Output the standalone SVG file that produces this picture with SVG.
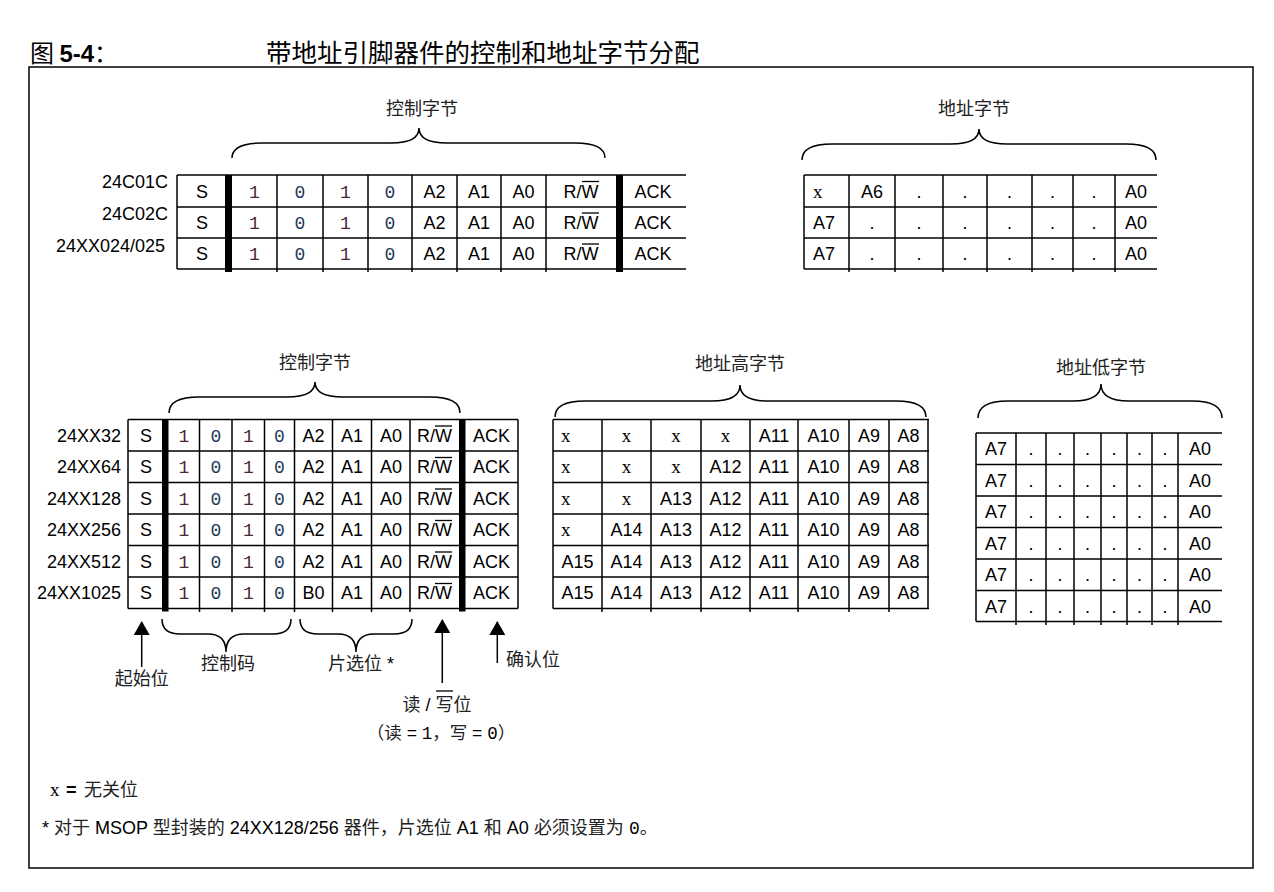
<svg xmlns="http://www.w3.org/2000/svg" width="1274" height="892" viewBox="0 0 1274 892">
<defs>
<style>
text{font-family:"Liberation Sans",Arial,"Noto Sans CJK SC",sans-serif;font-size:18px;fill:#000}
.c{text-anchor:middle}
.e{text-anchor:end}
.cjk{font-family:"Noto Sans CJK SC","Liberation Sans",sans-serif;fill:#222}
.m{font-family:"Liberation Mono","Courier New",monospace}
.x{font-family:"Liberation Serif","Times New Roman",serif;font-size:19px}
.d1{font-family:"Liberation Mono","Courier New",monospace;fill:#4a2638}
.d0{font-family:"Liberation Mono","Courier New",monospace;fill:#24395a}
.g line{stroke:#000;stroke-width:1.5}
.bar{fill:#000}
.br{fill:none;stroke:#000;stroke-width:1.5}
.ar{stroke:#000;stroke-width:1.5;marker-end:url(#ah)}
.ol{stroke:#000;stroke-width:1.3}
.ttl{font-size:24px}
.ttl2{font-size:25.5px;fill:#000}
.sm{font-size:17.5px}
</style>
<marker id="ah" viewBox="0 0 14 16" refX="13" refY="8" markerWidth="14" markerHeight="16" markerUnits="userSpaceOnUse" orient="auto">
<path d="M0,0 L14,8 L0,16 z" fill="#000"/>
</marker>
</defs>
<rect width="1274" height="892" fill="#fff"/>

<g id="title">
<text x="30" y="62" class="ttl"><tspan class="cjk" style="fill:#000">图 </tspan><tspan font-weight="bold">5-4</tspan><tspan class="cjk" style="fill:#000">：</tspan></text>
<text x="266" y="62" class="cjk ttl2">带地址引脚器件的控制和地址字节分配</text>
</g>

<rect id="frame" x="29" y="67" width="1224" height="801" fill="none" stroke="#000" stroke-width="1.5"/>

<!-- Top: control byte table -->
<g id="top-control">
<text x="422" y="115" class="cjk c">控制字节</text>
<path class="br" d="M232,158 Q232,143 262,143 L391,143 Q419,143 419,128 Q419,143 447,143 L575,143 Q605,143 605,158"/>
<text x="168" y="187.5" class="e">24C01C</text>
<text x="168" y="219.5" class="e">24C02C</text>
<text x="165" y="251.5" class="e">24XX024/025</text>
<g class="g">
<line x1="177" y1="175" x2="686" y2="175"/><line x1="177" y1="207" x2="686" y2="207"/>
<line x1="177" y1="238" x2="686" y2="238"/><line x1="177" y1="269" x2="686" y2="269"/>
<line x1="177" y1="175" x2="177" y2="269"/>
<line x1="277" y1="175" x2="277" y2="272"/><line x1="323" y1="175" x2="323" y2="272"/>
<line x1="368" y1="175" x2="368" y2="272"/><line x1="412" y1="175" x2="412" y2="272"/>
<line x1="457" y1="175" x2="457" y2="272"/><line x1="501" y1="175" x2="501" y2="272"/>
<line x1="546" y1="175" x2="546" y2="272"/>
</g>
<rect class="bar" x="225" y="175" width="7" height="97"/>
<rect class="bar" x="616" y="175" width="7" height="97"/>
<g class="c">
<text x="202" y="197.5" class="c">S</text><text x="254.5" y="197.5" class="c d1">1</text><text x="300" y="197.5" class="c d0">0</text><text x="345.5" y="197.5" class="c d1">1</text><text x="390" y="197.5" class="c d0">0</text><text x="434.5" y="197.5" class="c">A2</text><text x="479" y="197.5" class="c">A1</text><text x="523.5" y="197.5" class="c">A0</text><text x="581" y="197.5" class="c">R/W</text><text x="653" y="197.5" class="c">ACK</text>
<text x="202" y="229" class="c">S</text><text x="254.5" y="229" class="c d1">1</text><text x="300" y="229" class="c d0">0</text><text x="345.5" y="229" class="c d1">1</text><text x="390" y="229" class="c d0">0</text><text x="434.5" y="229" class="c">A2</text><text x="479" y="229" class="c">A1</text><text x="523.5" y="229" class="c">A0</text><text x="581" y="229" class="c">R/W</text><text x="653" y="229" class="c">ACK</text>
<text x="202" y="260" class="c">S</text><text x="254.5" y="260" class="c d1">1</text><text x="300" y="260" class="c d0">0</text><text x="345.5" y="260" class="c d1">1</text><text x="390" y="260" class="c d0">0</text><text x="434.5" y="260" class="c">A2</text><text x="479" y="260" class="c">A1</text><text x="523.5" y="260" class="c">A0</text><text x="581" y="260" class="c">R/W</text><text x="653" y="260" class="c">ACK</text>
</g>
<line class="ol" x1="582" y1="181.5" x2="599" y2="181.5"/>
<line class="ol" x1="582" y1="213" x2="599" y2="213"/>
<line class="ol" x1="582" y1="244" x2="599" y2="244"/>
</g>

<!-- Top: address byte table -->
<g id="top-address">
<text x="974" y="115" class="cjk c">地址字节</text>
<path class="br" d="M802,160 Q802,144 832,144 L951,144 Q979,144 979,129 Q979,144 1007,144 L1126,144 Q1156,144 1156,160"/>
<g class="g">
<line x1="804" y1="175" x2="1157" y2="175"/><line x1="804" y1="207" x2="1157" y2="207"/>
<line x1="804" y1="238" x2="1157" y2="238"/><line x1="804" y1="269" x2="1157" y2="269"/>
<line x1="804" y1="175" x2="804" y2="269"/>
<line x1="849" y1="175" x2="849" y2="272"/><line x1="895" y1="175" x2="895" y2="272"/>
<line x1="943" y1="175" x2="943" y2="272"/><line x1="987" y1="175" x2="987" y2="272"/>
<line x1="1032" y1="175" x2="1032" y2="272"/><line x1="1073" y1="175" x2="1073" y2="272"/>
<line x1="1115" y1="175" x2="1115" y2="272"/>
</g>
<text x="813" y="197.5" class="x">x</text><text x="872" y="197.5" class="c">A6</text><text x="919" y="197.5" class="c">.</text><text x="965" y="197.5" class="c">.</text><text x="1009.5" y="197.5" class="c">.</text><text x="1052.5" y="197.5" class="c">.</text><text x="1094" y="197.5" class="c">.</text><text x="1136" y="197.5" class="c">A0</text>
<text x="824" y="229" class="c">A7</text><text x="872" y="229" class="c">.</text><text x="919" y="229" class="c">.</text><text x="965" y="229" class="c">.</text><text x="1009.5" y="229" class="c">.</text><text x="1052.5" y="229" class="c">.</text><text x="1094" y="229" class="c">.</text><text x="1136" y="229" class="c">A0</text>
<text x="824" y="260" class="c">A7</text><text x="872" y="260" class="c">.</text><text x="919" y="260" class="c">.</text><text x="965" y="260" class="c">.</text><text x="1009.5" y="260" class="c">.</text><text x="1052.5" y="260" class="c">.</text><text x="1094" y="260" class="c">.</text><text x="1136" y="260" class="c">A0</text>
</g>

<!-- Bottom: control byte table -->
<g id="bottom-control">
<text x="315" y="369" class="cjk c">控制字节</text>
<path class="br" d="M169,413 Q169,397 199,397 L287,397 Q315,397 315,382 Q315,397 343,397 L430,397 Q460,397 460,413"/>
<text x="121" y="441.5" class="e">24XX32</text>
<text x="121" y="473" class="e">24XX64</text>
<text x="121" y="504.5" class="e">24XX128</text>
<text x="121" y="536" class="e">24XX256</text>
<text x="121" y="567.5" class="e">24XX512</text>
<text x="121" y="599" class="e">24XX1025</text>
<g class="g">
<line x1="128" y1="419.5" x2="518" y2="419.5"/><line x1="128" y1="451" x2="518" y2="451"/>
<line x1="128" y1="482.5" x2="518" y2="482.5"/><line x1="128" y1="514" x2="518" y2="514"/>
<line x1="128" y1="545.5" x2="518" y2="545.5"/><line x1="128" y1="577" x2="518" y2="577"/>
<line x1="128" y1="608.5" x2="518" y2="608.5"/>
<line x1="128" y1="419.5" x2="128" y2="608.5"/><line x1="518" y1="419.5" x2="518" y2="608.5"/>
<line x1="199.5" y1="419.5" x2="199.5" y2="612"/><line x1="232" y1="419.5" x2="232" y2="612"/>
<line x1="264.5" y1="419.5" x2="264.5" y2="612"/><line x1="294.5" y1="419.5" x2="294.5" y2="612"/>
<line x1="332.5" y1="419.5" x2="332.5" y2="612"/><line x1="371.5" y1="419.5" x2="371.5" y2="612"/>
<line x1="410" y1="419.5" x2="410" y2="612"/>
</g>
<rect class="bar" x="162" y="419.5" width="6.5" height="192"/>
<rect class="bar" x="459" y="419.5" width="6.5" height="192"/>
<text x="146" y="441.5" class="c">S</text><text x="184" y="441.5" class="c d1">1</text><text x="216" y="441.5" class="c d0">0</text><text x="248.5" y="441.5" class="c d1">1</text><text x="279.5" y="441.5" class="c d0">0</text><text x="313.5" y="441.5" class="c">A2</text><text x="352" y="441.5" class="c">A1</text><text x="391" y="441.5" class="c">A0</text><text x="434.5" y="441.5" class="c">R/W</text><text x="491.5" y="441.5" class="c">ACK</text>
<text x="146" y="473" class="c">S</text><text x="184" y="473" class="c d1">1</text><text x="216" y="473" class="c d0">0</text><text x="248.5" y="473" class="c d1">1</text><text x="279.5" y="473" class="c d0">0</text><text x="313.5" y="473" class="c">A2</text><text x="352" y="473" class="c">A1</text><text x="391" y="473" class="c">A0</text><text x="434.5" y="473" class="c">R/W</text><text x="491.5" y="473" class="c">ACK</text>
<text x="146" y="504.5" class="c">S</text><text x="184" y="504.5" class="c d1">1</text><text x="216" y="504.5" class="c d0">0</text><text x="248.5" y="504.5" class="c d1">1</text><text x="279.5" y="504.5" class="c d0">0</text><text x="313.5" y="504.5" class="c">A2</text><text x="352" y="504.5" class="c">A1</text><text x="391" y="504.5" class="c">A0</text><text x="434.5" y="504.5" class="c">R/W</text><text x="491.5" y="504.5" class="c">ACK</text>
<text x="146" y="536" class="c">S</text><text x="184" y="536" class="c d1">1</text><text x="216" y="536" class="c d0">0</text><text x="248.5" y="536" class="c d1">1</text><text x="279.5" y="536" class="c d0">0</text><text x="313.5" y="536" class="c">A2</text><text x="352" y="536" class="c">A1</text><text x="391" y="536" class="c">A0</text><text x="434.5" y="536" class="c">R/W</text><text x="491.5" y="536" class="c">ACK</text>
<text x="146" y="567.5" class="c">S</text><text x="184" y="567.5" class="c d1">1</text><text x="216" y="567.5" class="c d0">0</text><text x="248.5" y="567.5" class="c d1">1</text><text x="279.5" y="567.5" class="c d0">0</text><text x="313.5" y="567.5" class="c">A2</text><text x="352" y="567.5" class="c">A1</text><text x="391" y="567.5" class="c">A0</text><text x="434.5" y="567.5" class="c">R/W</text><text x="491.5" y="567.5" class="c">ACK</text>
<text x="146" y="599" class="c">S</text><text x="184" y="599" class="c d1">1</text><text x="216" y="599" class="c d0">0</text><text x="248.5" y="599" class="c d1">1</text><text x="279.5" y="599" class="c d0">0</text><text x="313.5" y="599" class="c">B0</text><text x="352" y="599" class="c">A1</text><text x="391" y="599" class="c">A0</text><text x="434.5" y="599" class="c">R/W</text><text x="491.5" y="599" class="c">ACK</text>
<line class="ol" x1="435" y1="426" x2="452" y2="426"/>
<line class="ol" x1="435" y1="457.5" x2="452" y2="457.5"/>
<line class="ol" x1="435" y1="489" x2="452" y2="489"/>
<line class="ol" x1="435" y1="520.5" x2="452" y2="520.5"/>
<line class="ol" x1="435" y1="552" x2="452" y2="552"/>
<line class="ol" x1="435" y1="583.5" x2="452" y2="583.5"/>
</g>

<!-- Bottom: address high byte -->
<g id="bottom-address-high">
<text x="740" y="370" class="cjk c">地址高字节</text>
<path class="br" d="M555,417 Q555,401 585,401 L712,401 Q740,401 740,385 Q740,401 768,401 L896,401 Q926,401 926,417"/>
<g class="g">
<line x1="553" y1="419.5" x2="929" y2="419.5"/><line x1="553" y1="451" x2="929" y2="451"/>
<line x1="553" y1="482.5" x2="929" y2="482.5"/><line x1="553" y1="514" x2="929" y2="514"/>
<line x1="553" y1="545.5" x2="929" y2="545.5"/><line x1="553" y1="577" x2="929" y2="577"/>
<line x1="553" y1="608.5" x2="929" y2="608.5"/>
<line x1="553" y1="419.5" x2="553" y2="608.5"/><line x1="928" y1="419.5" x2="928" y2="608.5"/>
<line x1="602" y1="419.5" x2="602" y2="612"/><line x1="651" y1="419.5" x2="651" y2="612"/>
<line x1="701" y1="419.5" x2="701" y2="612"/><line x1="750" y1="419.5" x2="750" y2="612"/>
<line x1="798" y1="419.5" x2="798" y2="612"/><line x1="849" y1="419.5" x2="849" y2="612"/>
<line x1="889" y1="419.5" x2="889" y2="612"/>
</g>
<text x="561" y="441.5" class="x">x</text><text x="626.5" y="441.5" class="c x">x</text><text x="676" y="441.5" class="c x">x</text><text x="725.5" y="441.5" class="c x">x</text><text x="774" y="441.5" class="c">A11</text><text x="823.5" y="441.5" class="c">A10</text><text x="869" y="441.5" class="c">A9</text><text x="908.5" y="441.5" class="c">A8</text>
<text x="561" y="473" class="x">x</text><text x="626.5" y="473" class="c x">x</text><text x="676" y="473" class="c x">x</text><text x="725.5" y="473" class="c">A12</text><text x="774" y="473" class="c">A11</text><text x="823.5" y="473" class="c">A10</text><text x="869" y="473" class="c">A9</text><text x="908.5" y="473" class="c">A8</text>
<text x="561" y="504.5" class="x">x</text><text x="626.5" y="504.5" class="c x">x</text><text x="676" y="504.5" class="c">A13</text><text x="725.5" y="504.5" class="c">A12</text><text x="774" y="504.5" class="c">A11</text><text x="823.5" y="504.5" class="c">A10</text><text x="869" y="504.5" class="c">A9</text><text x="908.5" y="504.5" class="c">A8</text>
<text x="561" y="536" class="x">x</text><text x="626.5" y="536" class="c">A14</text><text x="676" y="536" class="c">A13</text><text x="725.5" y="536" class="c">A12</text><text x="774" y="536" class="c">A11</text><text x="823.5" y="536" class="c">A10</text><text x="869" y="536" class="c">A9</text><text x="908.5" y="536" class="c">A8</text>
<text x="577.5" y="567.5" class="c">A15</text><text x="626.5" y="567.5" class="c">A14</text><text x="676" y="567.5" class="c">A13</text><text x="725.5" y="567.5" class="c">A12</text><text x="774" y="567.5" class="c">A11</text><text x="823.5" y="567.5" class="c">A10</text><text x="869" y="567.5" class="c">A9</text><text x="908.5" y="567.5" class="c">A8</text>
<text x="577.5" y="599" class="c">A15</text><text x="626.5" y="599" class="c">A14</text><text x="676" y="599" class="c">A13</text><text x="725.5" y="599" class="c">A12</text><text x="774" y="599" class="c">A11</text><text x="823.5" y="599" class="c">A10</text><text x="869" y="599" class="c">A9</text><text x="908.5" y="599" class="c">A8</text>
</g>

<!-- Bottom: address low byte -->
<g id="bottom-address-low">
<text x="1101" y="374" class="cjk c">地址低字节</text>
<path class="br" d="M978,418 Q978,401 1008,401 L1073,401 Q1101,401 1101,384 Q1101,401 1129,401 L1192,401 Q1222,401 1222,418"/>
<g class="g">
<line x1="976" y1="433" x2="1222" y2="433"/><line x1="976" y1="464.5" x2="1222" y2="464.5"/>
<line x1="976" y1="496" x2="1222" y2="496"/><line x1="976" y1="527.5" x2="1222" y2="527.5"/>
<line x1="976" y1="559" x2="1222" y2="559"/><line x1="976" y1="590.5" x2="1222" y2="590.5"/>
<line x1="976" y1="621.5" x2="1222" y2="621.5"/>
<line x1="976" y1="433" x2="976" y2="621.5"/>
<line x1="1016" y1="433" x2="1016" y2="625"/><line x1="1046" y1="433" x2="1046" y2="625"/>
<line x1="1074" y1="433" x2="1074" y2="625"/><line x1="1101" y1="433" x2="1101" y2="625"/>
<line x1="1127" y1="433" x2="1127" y2="625"/><line x1="1152" y1="433" x2="1152" y2="625"/>
<line x1="1178" y1="433" x2="1178" y2="625"/>
</g>
<text x="996" y="455" class="c">A7</text><text x="1031" y="455" class="c">.</text><text x="1060" y="455" class="c">.</text><text x="1087.5" y="455" class="c">.</text><text x="1114" y="455" class="c">.</text><text x="1139.5" y="455" class="c">.</text><text x="1165" y="455" class="c">.</text><text x="1200" y="455" class="c">A0</text>
<text x="996" y="486.5" class="c">A7</text><text x="1031" y="486.5" class="c">.</text><text x="1060" y="486.5" class="c">.</text><text x="1087.5" y="486.5" class="c">.</text><text x="1114" y="486.5" class="c">.</text><text x="1139.5" y="486.5" class="c">.</text><text x="1165" y="486.5" class="c">.</text><text x="1200" y="486.5" class="c">A0</text>
<text x="996" y="518" class="c">A7</text><text x="1031" y="518" class="c">.</text><text x="1060" y="518" class="c">.</text><text x="1087.5" y="518" class="c">.</text><text x="1114" y="518" class="c">.</text><text x="1139.5" y="518" class="c">.</text><text x="1165" y="518" class="c">.</text><text x="1200" y="518" class="c">A0</text>
<text x="996" y="549.5" class="c">A7</text><text x="1031" y="549.5" class="c">.</text><text x="1060" y="549.5" class="c">.</text><text x="1087.5" y="549.5" class="c">.</text><text x="1114" y="549.5" class="c">.</text><text x="1139.5" y="549.5" class="c">.</text><text x="1165" y="549.5" class="c">.</text><text x="1200" y="549.5" class="c">A0</text>
<text x="996" y="581" class="c">A7</text><text x="1031" y="581" class="c">.</text><text x="1060" y="581" class="c">.</text><text x="1087.5" y="581" class="c">.</text><text x="1114" y="581" class="c">.</text><text x="1139.5" y="581" class="c">.</text><text x="1165" y="581" class="c">.</text><text x="1200" y="581" class="c">A0</text>
<text x="996" y="612.5" class="c">A7</text><text x="1031" y="612.5" class="c">.</text><text x="1060" y="612.5" class="c">.</text><text x="1087.5" y="612.5" class="c">.</text><text x="1114" y="612.5" class="c">.</text><text x="1139.5" y="612.5" class="c">.</text><text x="1165" y="612.5" class="c">.</text><text x="1200" y="612.5" class="c">A0</text>
</g>

<!-- Annotations / connectors -->
<g id="connectors">
<line class="ar" x1="141.7" y1="667" x2="141.7" y2="622"/>
<line class="ar" x1="442.3" y1="683" x2="442.3" y2="620"/>
<line class="ar" x1="497.3" y1="663" x2="497.3" y2="622"/>
<path class="br" d="M162,619 Q162,634 180,634 L208,634 Q226,634 226,652 Q226,634 244,634 L273,634 Q291,634 291,619"/>
<path class="br" d="M300,619 Q300,634 318,634 L338,634 Q356,634 356,652 Q356,634 374,634 L394,634 Q412,634 412,619"/>
</g>
<g id="annotation-labels">
<text x="141.7" y="685" class="cjk c">起始位</text>
<text x="228" y="670" class="cjk c">控制码</text>
<text x="361" y="670" class="c"><tspan class="cjk">片选位</tspan> *</text>
<text x="533" y="666" class="cjk c">确认位</text>
<text x="437" y="711" class="c"><tspan class="cjk">读</tspan> / <tspan class="cjk">写位</tspan></text>
<line class="ol" x1="436" y1="691" x2="453" y2="691"/>
<text x="441" y="739" class="c sm"><tspan class="cjk">（读</tspan> = <tspan class="m">1</tspan><tspan class="cjk">，写</tspan> = <tspan class="m">0</tspan><tspan class="cjk">）</tspan></text>
</g>

<g id="legend">
<text x="50" y="796" class="x">x</text>
<text x="66" y="796" font-weight="bold">=</text>
<text x="84" y="796" class="cjk">无关位</text>
<text x="42" y="834">* <tspan class="cjk">对于</tspan> MSOP <tspan class="cjk">型封装的</tspan> 24XX128/256 <tspan class="cjk">器件，片选位</tspan> A1 <tspan class="cjk">和</tspan> A0 <tspan class="cjk">必须设置为</tspan> <tspan class="m">0</tspan><tspan class="cjk">。</tspan></text>
</g>
</svg>
